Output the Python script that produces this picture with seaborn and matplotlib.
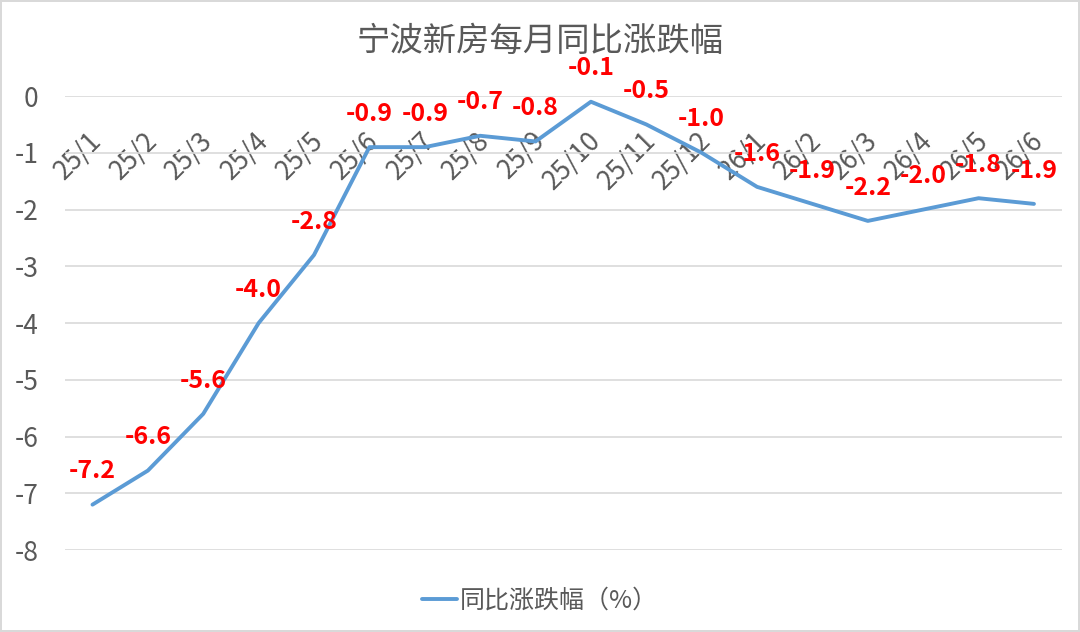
import pandas as pd
import seaborn as sns
import matplotlib.pyplot as plt
from matplotlib.transforms import ScaledTranslation

# Data
months = ['25/1', '25/2', '25/3', '25/4', '25/5', '25/6', '25/7', '25/8', '25/9',
          '25/10', '25/11', '25/12', '26/1', '26/2', '26/3', '26/4', '26/5', '26/6']
yoy_change = [-7.2, -6.6, -5.6, -4.0, -2.8, -0.9, -0.9, -0.7, -0.8,
              -0.1, -0.5, -1.0, -1.6, -1.9, -2.2, -2.0, -1.8, -1.9]
y_ticks = [0, -1, -2, -3, -4, -5, -6, -7, -8]

TITLE = '宁波新房每月同比涨跌幅'
SERIES_NAME = '同比涨跌幅（%）'

LINE_COLOR = '#5B9BD5'
GRID_COLOR = '#D9D9D9'
TEXT_COLOR = '#595959'

sns.set_theme(style='white')
plt.rcParams['font.family'] = ['Noto Sans CJK SC', 'DejaVu Sans']
plt.rcParams['axes.unicode_minus'] = False

df = pd.DataFrame({'month': months, 'value': yoy_change})

fig = plt.figure(figsize=(10.8, 6.32), dpi=100)
fig.patch.set_edgecolor(GRID_COLOR)
fig.patch.set_linewidth(1.5)
ax = fig.add_axes([0.060, 0.1297, 0.923, 0.7183])

sns.lineplot(data=df, x='month', y='value', ax=ax, color=LINE_COLOR,
             linewidth=2.8, label=SERIES_NAME, sort=False)

ax.set_xlim(-0.5, len(months) - 0.5)
ax.set_ylim(-8, 0)
ax.set_yticks(y_ticks)
ax.set_yticklabels([str(t) for t in y_ticks])
ax.set_xlabel('')
ax.set_ylabel('')
ax.grid(axis='y', color=GRID_COLOR, linewidth=1.2)
ax.set_axisbelow(True)
for s in ax.spines.values():
    s.set_visible(False)

# y labels
ax.tick_params(axis='y', length=0, pad=19, labelsize=19, labelcolor=TEXT_COLOR)

# category axis crosses at 0 (the top), labels hang below it
ax.tick_params(axis='x', length=0, top=False, bottom=False, labeltop=True,
               labelbottom=False, pad=-29, labelsize=19, labelcolor=TEXT_COLOR)
shift = ScaledTranslation(4 / 72, 0, fig.dpi_scale_trans)
for lab in ax.get_xticklabels():
    lab.set_rotation(45)
    lab.set_ha('right')
    lab.set_va('center')
    lab.set_rotation_mode('anchor')
    lab.set_transform(lab.get_transform() + shift)

# data labels
for i, v in enumerate(yoy_change):
    ax.annotate(f'{v:.1f}', (i, v), xytext=(0, 24), textcoords='offset points',
                ha='center', va='center', color='#FF0000', fontweight='bold',
                fontsize=18)

fig.text(0.5, 0.935, TITLE, ha='center', va='center', fontsize=24, color=TEXT_COLOR)

ax.get_legend().remove()
handles, labels = ax.get_legend_handles_labels()
fig.legend(handles, labels, loc='center', bbox_to_anchor=(0.5, 0.05), frameon=False,
           fontsize=18, labelcolor=TEXT_COLOR, handlelength=1.4, handletextpad=0.15)

fig.savefig('out.png', dpi=100, edgecolor=fig.get_edgecolor())
